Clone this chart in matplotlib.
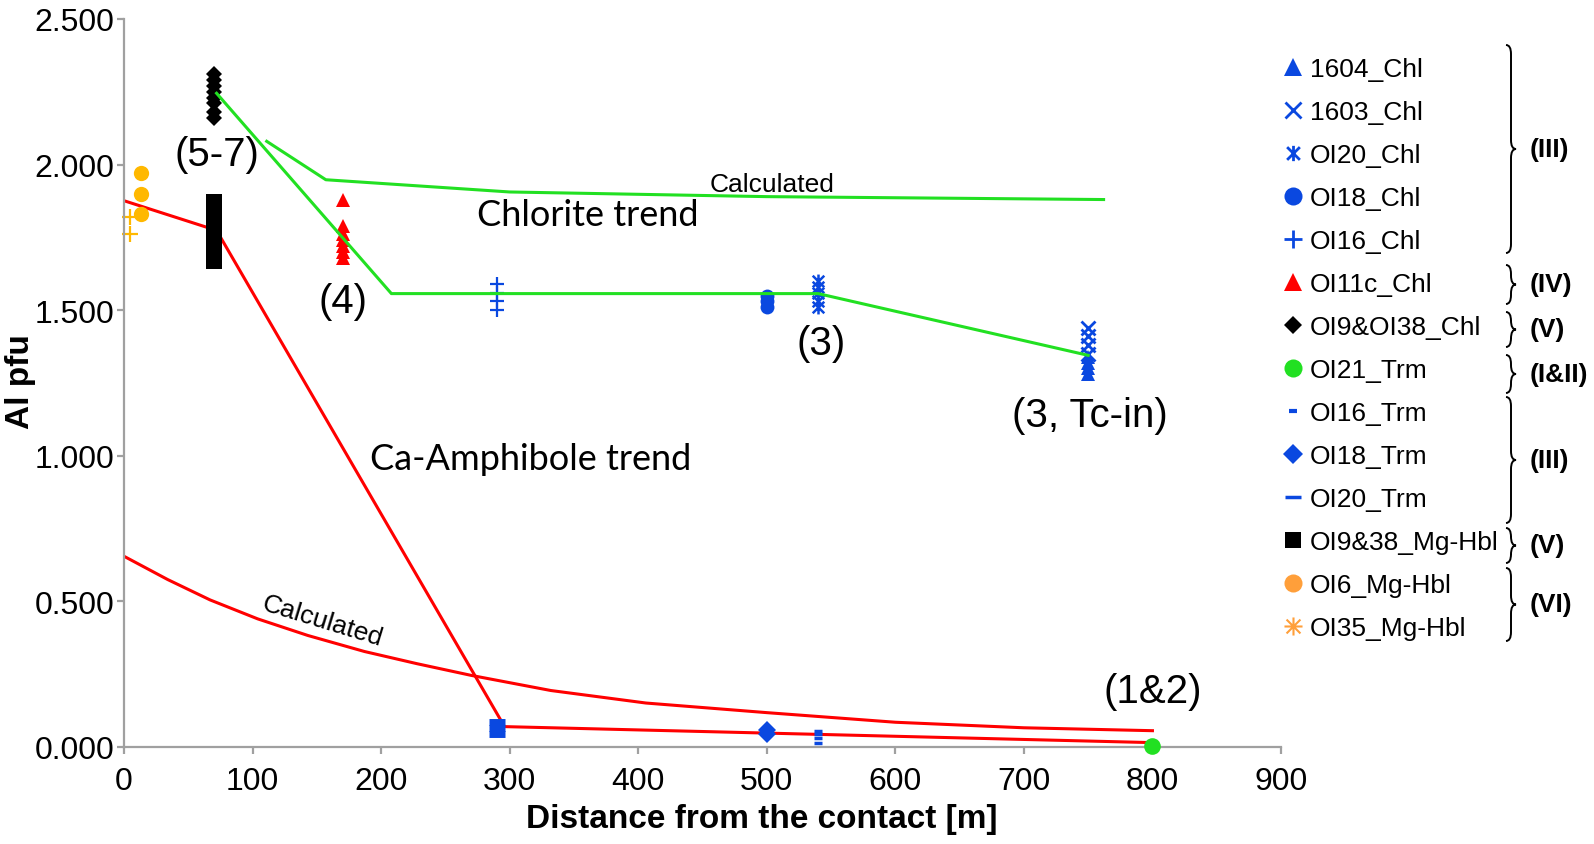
import numpy as np
import matplotlib
matplotlib.use("Agg")
from matplotlib import pyplot as plt
from matplotlib.lines import Line2D
from matplotlib.path import Path
from matplotlib.patches import PathPatch

plt.rcParams["font.family"] = ["Liberation Sans", "DejaVu Sans"]

# ---- data (distance in m, Al pfu) ----
x_1604_chl = [750, 750, 750, 750]
y_1604_chl = [1.34, 1.32, 1.30, 1.28]
x_1603_chl = [750, 750, 750, 750]
y_1603_chl = [1.44, 1.41, 1.38, 1.35]
x_ol20_chl = [540, 540, 540, 540, 540]
y_ol20_chl = [1.60, 1.58, 1.56, 1.53, 1.51]
x_ol18_chl = [500, 500, 500]
y_ol18_chl = [1.55, 1.53, 1.51]
x_ol16_chl = [290, 290, 290, 290]
y_ol16_chl = [1.59, 1.56, 1.53, 1.50]
x_ol11c_chl = [170, 170, 170, 170, 170, 170, 170]
y_ol11c_chl = [1.88, 1.79, 1.76, 1.74, 1.72, 1.70, 1.68]
x_ol9_chl = [70, 70, 70, 70, 70, 70, 70, 70]
y_ol9_chl = [2.31, 2.29, 2.27, 2.25, 2.23, 2.21, 2.18, 2.16]
x_ol21_trm = [800]
y_ol21_trm = [0.005]
x_ol16_trm = [290, 290, 290]
y_ol16_trm = [0.086, 0.066, 0.045]
x_ol18_trm = [500, 500]
y_ol18_trm = [0.06, 0.045]
x_ol20_trm = [540, 540, 540, 540]
y_ol20_trm = [0.055, 0.045, 0.03, 0.015]
x_ol9_hbl = [70] * 11
y_ol9_hbl = [1.87, 1.85, 1.83, 1.81, 1.79, 1.77, 1.75, 1.73, 1.71, 1.69, 1.67]
x_ol6_hbl = [13, 13, 13]
y_ol6_hbl = [1.97, 1.90, 1.83]
x_ol35_hbl = [5, 5]
y_ol35_hbl = [1.82, 1.76]

# trend lines
chl_trend_x = [72, 208, 540, 750]
chl_trend_y = [2.245, 1.557, 1.557, 1.345]
chl_calc_x = [111, 157, 300, 500, 762]
chl_calc_y = [2.08, 1.948, 1.906, 1.89, 1.88]
amp_trend_x = [0, 72, 296, 800]
amp_trend_y = [1.876, 1.774, 0.07, 0.015]
amp_calc_x = [0, 34, 67, 104, 143, 187, 228, 270, 332, 406, 500, 600, 700, 800]
amp_calc_y = [0.655, 0.575, 0.505, 0.44, 0.383, 0.328, 0.286, 0.246, 0.194, 0.151,
              0.118, 0.085, 0.066, 0.056]

blue = "#0a48e0"
red = "#ff0000"
green = "#22e022"
orange = "#ffb800"
orange_leg = "#ff9f3a"

# asterisk-type markers
ast_path = Path([(-1, -1), (1, 1), (-1, 1), (1, -1), (0, -1.2), (0, 1.2)],
                [Path.MOVETO, Path.LINETO] * 3)
ast8_path = Path([(-1, -1), (1, 1), (-1, 1), (1, -1), (0, -1.3), (0, 1.3), (-1.3, 0), (1.3, 0)],
                 [Path.MOVETO, Path.LINETO] * 4)

W, H = 1594, 845
fig = plt.figure(figsize=(W / 100, H / 100), dpi=100)
ax = fig.add_axes([124 / W, 1 - 748 / H, (1281 - 124) / W, (748 - 20) / H])

ax.plot(amp_calc_x, amp_calc_y, "-", color=red, lw=2.2)
ax.plot(amp_trend_x, amp_trend_y, "-", color=red, lw=2.2)
ax.plot(chl_calc_x, chl_calc_y, "-", color=green, lw=2.2)
ax.plot(chl_trend_x, chl_trend_y, "-", color=green, lw=2.2, zorder=4)

kw = dict(ls="none", clip_on=False)
ax.plot(x_ol9_hbl, y_ol9_hbl, marker="s", color="black", ms=11, mew=0, **kw)
ax.plot(x_ol6_hbl, y_ol6_hbl, marker="o", color=orange, ms=11, mew=0, **kw)
ax.plot(x_ol35_hbl, y_ol35_hbl, marker="+", color=orange, ms=11, mew=1.6, **kw)
ax.plot(x_ol9_chl, y_ol9_chl, marker="D", color="black", ms=8, mew=0, **kw)
ax.plot(x_ol11c_chl, y_ol11c_chl, marker="^", color=red, ms=10, mew=0, **kw)
ax.plot(x_ol16_chl, y_ol16_chl, marker="+", color=blue, ms=10, mew=1.6, **kw)
ax.plot(x_ol18_chl, y_ol18_chl, marker="o", color=blue, ms=10, mew=0, **kw)
ax.plot(x_ol20_chl, y_ol20_chl, marker=ast_path, color=blue, mfc="none", ms=10, mew=1.8, **kw)
ax.plot(x_1603_chl, y_1603_chl, marker="x", color=blue, ms=10, mew=2, **kw)
ax.plot(x_1604_chl, y_1604_chl, marker="^", color=blue, ms=10, mew=0, **kw)
ax.plot(x_ol16_trm, y_ol16_trm, marker="_", color=blue, ms=11, mew=5, **kw)
ax.plot(x_ol18_trm, y_ol18_trm, marker="D", color=blue, ms=9, mew=0, **kw)
ax.plot(x_ol20_trm, y_ol20_trm, marker="_", color=blue, ms=5.5, mew=2.5, **kw)
ax.plot(x_ol21_trm, y_ol21_trm, marker="o", color=green, ms=12, mew=0, zorder=5, **kw)

ax.set_xlim(0, 900)
ax.set_ylim(0, 2.5)
ax.set_xticks(np.arange(0, 901, 100))
ax.set_yticks(np.arange(0, 2.51, 0.5))
ax.yaxis.set_major_formatter(matplotlib.ticker.FormatStrFormatter("%.3f"))
for s in ["top", "right"]:
    ax.spines[s].set_visible(False)
for s in ["left", "bottom"]:
    ax.spines[s].set_color("#a0a0a0")
    ax.spines[s].set_linewidth(1.6)
ax.tick_params(direction="out", length=5, width=1.6, color="#a0a0a0", labelsize=23)
ax.tick_params(axis="x", pad=9)
ax.tick_params(axis="y", pad=2)

fig.text(762 / W, 1 - 820 / H, "Distance from the contact [m]", fontsize=24,
         fontweight="bold", ha="center", va="center")
fig.text(20 / W, 1 - 382 / H, "Al pfu", fontsize=24, fontweight="bold",
         ha="center", va="center", rotation=90)

# annotations
big = 29
ax.text(72, 2.035, "(5-7)", fontsize=big, ha="center", va="center")
ax.text(170, 1.532, "(4)", fontsize=big, ha="center", va="center")
ax.text(542, 1.386, "(3)", fontsize=big, ha="center", va="center")
ax.text(751, 1.141, "(3, Tc-in)", fontsize=big, ha="center", va="center")
ax.text(800, 0.193, "(1&2)", fontsize=big, ha="center", va="center")
ax.text(361, 1.828, "Chlorite trend", fontsize=26, ha="center", va="center", family="Lato")
ax.text(316, 0.99, "Ca-Amphibole trend", fontsize=26, ha="center", va="center", family="Lato")
ax.text(504, 1.934, "Calculated", fontsize=19, ha="center", va="center")
ax.text(154, 0.433, "Calculated", fontsize=19, ha="center", va="center", rotation=-17,
        rotation_mode="anchor")

# legend
leg_items = [
    ("1604_Chl", dict(marker="^", color=blue, ms=13, mew=0)),
    ("1603_Chl", dict(marker="x", color=blue, ms=11, mew=2)),
    ("OI20_Chl", dict(marker=ast_path, color=blue, mfc="none", ms=11, mew=2)),
    ("OI18_Chl", dict(marker="o", color=blue, ms=13, mew=0)),
    ("OI16_Chl", dict(marker="+", color=blue, ms=13, mew=2)),
    ("OI11c_Chl", dict(marker="^", color=red, ms=13, mew=0)),
    ("OI9&OI38_Chl", dict(marker="D", color="black", ms=9, mew=0)),
    ("OI21_Trm", dict(marker="o", color=green, ms=13, mew=0)),
    ("OI16_Trm", dict(marker="_", color=blue, ms=6, mew=3)),
    ("OI18_Trm", dict(marker="D", color=blue, ms=10, mew=0)),
    ("OI20_Trm", dict(marker="_", color=blue, ms=11, mew=2.5)),
    ("OI9&38_Mg-Hbl", dict(marker="s", color="black", ms=12, mew=0)),
    ("OI6_Mg-Hbl", dict(marker="o", color=orange_leg, ms=13, mew=0)),
    ("OI35_Mg-Hbl", dict(marker=ast8_path, color=orange_leg, mfc="none", ms=13, mew=1.5)),
]
handles = [Line2D([], [], ls="none", **st) for _, st in leg_items]
labels = [lab for lab, _ in leg_items]
fig.legend(handles, labels, loc="upper left", bbox_to_anchor=(1280 / W, 1 - 58 / H),
           bbox_transform=fig.transFigure, frameon=False, fontsize=19,
           handlelength=1.0, handletextpad=0.12, labelspacing=0.72, borderpad=0,
           borderaxespad=0)


# curly braces with group labels (figure pixel coordinates, y from top)
def brace(x0, y1, y2, w=10, r=9):
    ym = (y1 + y2) / 2
    xm = x0 + w / 2
    pts = [(x0, y1), (xm, y1), (xm, y1 + r), (xm, ym - r), (xm, ym), (x0 + w, ym),
           (xm, ym), (xm, ym + r), (xm, y2 - r), (xm, y2), (x0, y2)]
    codes = [Path.MOVETO, Path.CURVE3, Path.CURVE3, Path.LINETO, Path.CURVE3, Path.CURVE3,
             Path.CURVE3, Path.CURVE3, Path.LINETO, Path.CURVE3, Path.CURVE3]
    verts = [(px / W, 1 - py / H) for px, py in pts]
    fig.add_artist(PathPatch(Path(verts, codes), fc="none", ec="black", lw=1.4,
                             transform=fig.transFigure))


groups = [("(III)", 46, 254), ("(IV)", 266, 305), ("(V)", 313, 348), ("(I&II)", 356, 394),
          ("(III)", 398, 524), ("(V)", 529, 564), ("(VI)", 569, 642)]
for lab, y1, y2 in groups:
    brace(1506, y1, y2)
    fig.text(1530 / W, 1 - (y1 + y2) / 2 / H, lab, fontsize=19, fontweight="bold",
             ha="left", va="center")

fig.savefig("out.png", dpi=100)
